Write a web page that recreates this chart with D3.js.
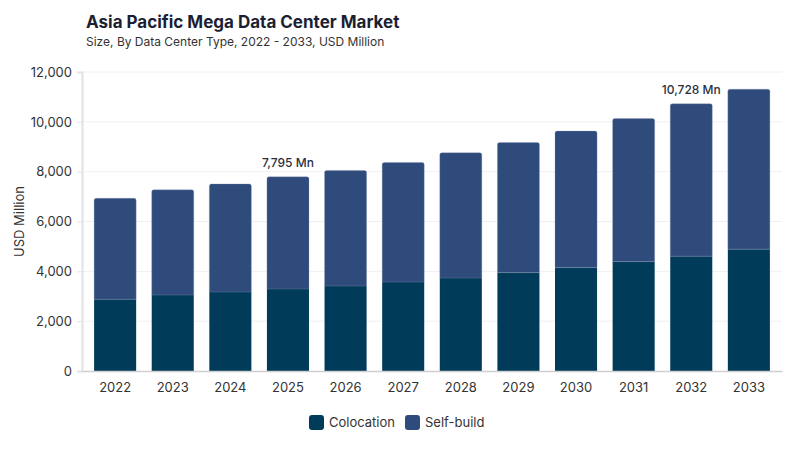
<!DOCTYPE html>
<html>
<head>
<meta charset="utf-8">
<script src="https://cdn.jsdelivr.net/npm/d3@7"></script>
<style>
  body { margin: 0; background: #fff; font-family: Inter, "Noto Sans", sans-serif; }
</style>
</head>
<body>
<div id="chart"></div>
<script>
// chart data
const years = ['2022', '2023', '2024', '2025', '2026', '2027', '2028', '2029', '2030', '2031', '2032', '2033'];
const colocation = [2880, 3050, 3170, 3290, 3410, 3570, 3730, 3950, 4150, 4390, 4610, 4890];
const selfBuild = [4050, 4220, 4340, 4505, 4640, 4800, 5030, 5220, 5480, 5740, 6118, 6420];
const seriesNames = ['Colocation', 'Self-build'];
const yTicks = [0, 2000, 4000, 6000, 8000, 10000, 12000];
const callouts = { '2025': '7,795 Mn', '2032': '10,728 Mn' };

const width = 800, height = 450;
const margin = { top: 72, right: 18, bottom: 79, left: 82 };
const colors = { 'Colocation': '#003c5a', 'Self-build': '#2f4b7c' };

const rows = years.map((y, i) => ({ year: y, 'Colocation': colocation[i], 'Self-build': selfBuild[i] }));
const stacked = d3.stack().keys(seriesNames)(rows);

const svg = d3.select('#chart')
              .append('svg')
              .attr('width', width)
              .attr('height', height);

const x = d3.scaleBand()
            .domain(years)
            .range([margin.left, width - margin.right])
            .paddingInner(0.27)
            .paddingOuter(0.21);

const y = d3.scaleLinear()
            .domain([0, 12000])
            .range([height - margin.bottom, margin.top]);

// gridlines
svg.append('g')
   .selectAll('line')
   .data(yTicks.slice(1))
   .enter().append('line')
   .attr('x1', margin.left)
   .attr('x2', width - margin.right)
   .attr('y1', d => y(d))
   .attr('y2', d => y(d))
   .attr('stroke', '#f0f0f0');

// y axis
const yAxis = svg.append('g')
   .attr('transform', `translate(${margin.left},0)`)
   .call(d3.axisLeft(y).tickValues(yTicks).tickFormat(d3.format(',')).tickSize(5).tickPadding(5));
yAxis.select('.domain').attr('stroke', '#e2e2e2').attr('stroke-width', 2);
yAxis.selectAll('.tick line').attr('stroke', '#e2e2e2');
yAxis.selectAll('text').attr('font-size', 13).attr('fill', '#333').attr('font-family', 'Inter, sans-serif');

// bars
const layer = svg.append('g')
   .selectAll('g')
   .data(stacked)
   .enter().append('g')
   .attr('fill', d => colors[d.key]);

function barPath(d, rounded) {
    const x0 = x(d.data.year), w = x.bandwidth();
    const top = y(d[1]), bot = y(d[0]);
    const r = rounded ? 2 : 0;
    return `M${x0},${bot}V${top + r}Q${x0},${top} ${x0 + r},${top}H${x0 + w - r}Q${x0 + w},${top} ${x0 + w},${top + r}V${bot}Z`;
}

layer.selectAll('path')
     .data(d => d.map(v => Object.assign(v, { key: d.key })))
     .enter().append('path')
     .attr('d', d => barPath(d, d.key === 'Self-build'))
     .attr('stroke', d => d.key === 'Self-build' ? '#8a9bb8' : 'none')
     .attr('stroke-width', 0.5)
     .attr('stroke-opacity', 0.6);

// x axis
const xAxis = svg.append('g')
   .attr('transform', `translate(0,${height - margin.bottom})`)
   .call(d3.axisBottom(x).tickSize(0).tickPadding(12));
xAxis.select('.domain').attr('stroke', '#cfcfcf').attr('stroke-width', 1.5);
xAxis.selectAll('text').attr('font-size', 13).attr('fill', '#333').attr('font-family', 'Inter, sans-serif');

// callout labels
svg.append('g')
   .selectAll('text')
   .data(rows.filter(r => callouts[r.year]))
   .enter().append('text')
   .attr('x', d => x(d.year) + x.bandwidth() / 2)
   .attr('y', d => y(d['Colocation'] + d['Self-build']) - 10)
   .attr('text-anchor', 'middle')
   .attr('font-size', 12)
   .attr('font-weight', 500)
   .attr('fill', '#2b3040')
   .text(d => callouts[d.year]);

// titles
svg.append('text')
   .attr('x', 86).attr('y', 28)
   .attr('font-size', 17).attr('font-weight', 700).attr('fill', '#1c1f33')
   .text('Asia Pacific Mega Data Center Market');
svg.append('text')
   .attr('x', 86).attr('y', 46)
   .attr('font-size', 12).attr('fill', '#333')
   .text('Size, By Data Center Type, 2022 - 2033, USD Million');

// y label
svg.append('text')
   .attr('transform', `translate(24,${(margin.top + height - margin.bottom) / 2}) rotate(-90)`)
   .attr('text-anchor', 'middle')
   .attr('font-size', 13).attr('fill', '#333')
   .text('USD Million');

// legend
const legend = svg.append('g')
   .selectAll('g')
   .data(seriesNames)
   .enter().append('g')
   .attr('transform', (d, i) => `translate(${[309, 405][i]},415)`);
legend.append('rect')
      .attr('width', 15).attr('height', 15).attr('rx', 3)
      .attr('fill', d => colors[d]);
legend.append('text')
      .attr('x', 20).attr('y', 12)
      .attr('font-size', 13).attr('fill', '#333')
      .text(d => d);
</script>
</body>
</html>
